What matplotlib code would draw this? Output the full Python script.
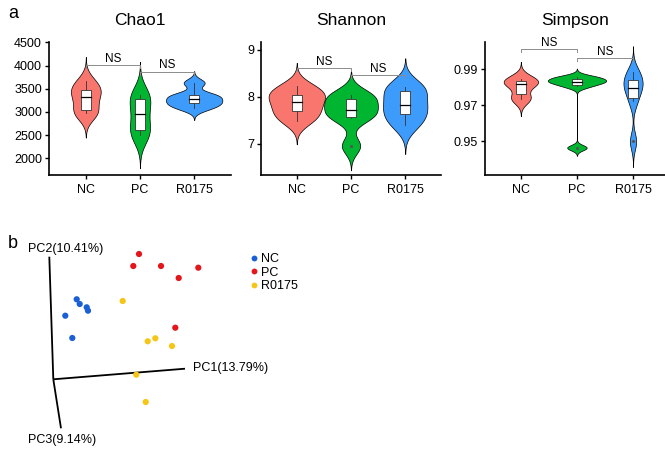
import numpy as np
import matplotlib
matplotlib.use("Agg")
import matplotlib.pyplot as plt
from matplotlib.lines import Line2D

plt.rcParams['font.family'] = ['Liberation Sans', 'DejaVu Sans']

# ---------------- data ----------------
groups = ["NC", "PC", "R0175"]
group_colors = ["#F8766D", "#00B530", "#3D9BFC"]

chao1_NC = [2975, 2985, 3250, 3410, 3505, 3660]
chao1_PC = [2502, 2540, 2820, 3076, 3336, 3364]
chao1_R0175 = [3078, 3170, 3230, 3326, 3377, 3629]

shannon_NC = [7.48, 7.65, 7.80, 7.98, 8.06, 8.22]
shannon_PC = [6.95, 7.55, 7.63, 7.79, 7.99, 8.03]
shannon_R0175 = [7.39, 7.58, 7.75, 7.91, 8.18, 8.20]

simpson_NC = [0.9732, 0.9744, 0.9809, 0.9825, 0.9836, 0.9848]
simpson_PC = [0.9465, 0.9805, 0.9829, 0.9829, 0.98477, 0.9858]
simpson_R0175 = [0.9500, 0.9721, 0.9790, 0.9806, 0.9850, 0.9885]

# significance brackets (pair, height)
chao1_sig = [((1, 2), 4010), ((2, 3), 3866)]
shannon_sig = [((1, 2), 8.60), ((2, 3), 8.45)]
simpson_sig = [((1, 2), 1.0010), ((2, 3), 0.9959)]

# PCoA projected scores (arbitrary units)
nc_x = [23.4, 26.4, 33.4, 34.7, 12.0, 19.0]
nc_y = [80.0, 75.3, 72.0, 68.6, 63.6, 41.3]
pc_x = [85.7, 80.0, 107.7, 125.4, 145.0, 122.0]
pc_y = [125.3, 113.3, 113.3, 101.3, 111.6, 51.6]
r_x = [69.4, 94.4, 102.0, 118.7, 83.0, 92.4]
r_y = [78.3, 38.0, 41.0, 33.3, 4.6, -22.7]
pcoa_colors = ["#1A5FD6", "#E3161B", "#F5C518"]
axis_labels = ["PC1(13.79%)", "PC2(10.41%)", "PC3(9.14%)"]
axis_ends = {"PC1": (131.7, 10.6), "PC2": (-4.0, 122.6), "PC3": (7.7, -49.0)}

# ---------------- helpers ----------------
def nrd0(v):
    v = np.asarray(v, float)
    sd = np.std(v, ddof=1)
    iqr = (np.percentile(v, 75) - np.percentile(v, 25)) / 1.34
    return 0.9 * min(sd, iqr) * len(v) ** -0.2

def kde(v):
    v = np.asarray(v, float)
    bw = nrd0(v)
    y = np.linspace(v.min() - 3 * bw, v.max() + 3 * bw, 512)
    d = np.exp(-0.5 * ((y[:, None] - v[None, :]) / bw) ** 2).sum(1) / (len(v) * bw * np.sqrt(2 * np.pi))
    return y, d

def violin_panel(ax, data, title, sig, ylim, yticks, yfmt, xlim):
    dens = [kde(v) for v in data]
    dmax = max(d.max() for _, d in dens)
    width = 1.04
    for i, ((yy, d), v, c) in enumerate(zip(dens, data, group_colors)):
        pos = i + 1
        hw = d / dmax * width / 2
        ax.fill_betweenx(yy, pos - hw, pos + hw, facecolor=c, edgecolor="black", linewidth=0.5, zorder=2)
        v = np.asarray(v, float)
        q1, med, q3 = np.percentile(v, [25, 50, 75])
        iqr = q3 - q1
        lo_f, hi_f = q1 - 1.5 * iqr, q3 + 1.5 * iqr
        inside = v[(v >= lo_f) & (v <= hi_f)]
        wlo, whi = inside.min(), inside.max()
        outl = v[(v < lo_f) | (v > hi_f)]
        bw_ = 0.18
        ax.plot([pos, pos], [whi, q3], color="#333333", lw=0.6, zorder=3)
        ax.plot([pos, pos], [wlo, q1], color="#333333", lw=0.6, zorder=3)
        ax.add_patch(plt.Rectangle((pos - bw_ / 2, q1), bw_, q3 - q1, facecolor="white",
                                   edgecolor="#333333", lw=0.6, zorder=4))
        ax.plot([pos - bw_ / 2, pos + bw_ / 2], [med, med], color="black", lw=0.9, zorder=5)
        if len(outl):
            ax.scatter([pos] * len(outl), outl, s=1.5, color="#555555", zorder=3)
    yr = ylim[1] - ylim[0]
    tip = 0.02 * yr
    for (a, b), h in sig:
        ax.plot([a, a, b, b], [h - tip, h, h, h - tip], color="#8C8C8C", lw=0.7, zorder=6)
        ax.text((a + b) / 2, h + 0.004 * yr, "NS", ha="center", va="bottom", fontsize=8.5)
    ax.set_xlim(*xlim)
    ax.set_ylim(*ylim)
    ax.set_xticks([1, 2, 3])
    ax.set_xticklabels(groups)
    ax.set_yticks(yticks)
    ax.set_yticklabels([yfmt.format(t) for t in yticks])
    ax.tick_params(axis="both", labelsize=9, length=3, width=1, pad=2)
    ax.tick_params(axis="x", pad=3.5)
    for s in ["top", "right"]:
        ax.spines[s].set_visible(False)
    for s in ["left", "bottom"]:
        ax.spines[s].set_linewidth(1.2)
    ax.set_title(title, fontsize=12.5, pad=12)

# ---------------- figure ----------------
W, H = 665, 450
fig = plt.figure(figsize=(W / 100, H / 100), dpi=100)

def rect(l, r, t, b):
    return [l / W, 1 - b / H, (r - l) / W, (b - t) / H]

ax1 = fig.add_axes(rect(49, 231, 42, 175))
violin_panel(ax1, [chao1_NC, chao1_PC, chao1_R0175], "Chao1", chao1_sig,
             (1640, 4510), [2000, 2500, 3000, 3500, 4000, 4500], "{:d}", (0.32, 3.68))
ax2 = fig.add_axes(rect(261, 441, 42, 175))
violin_panel(ax2, [shannon_NC, shannon_PC, shannon_R0175], "Shannon", shannon_sig,
             (6.33, 9.16), [7, 8, 9], "{:g}", (0.34, 3.66))
ax3 = fig.add_axes(rect(485, 665, 42, 175))
violin_panel(ax3, [simpson_NC, simpson_PC, simpson_R0175], "Simpson", simpson_sig,
             (0.9314, 1.005), [0.95, 0.97, 0.99], "{:.2f}", (0.36, 3.57))

fig.text(8 / W, 1 - 13 / H, "a", fontsize=13, ha="left", va="center")
fig.text(8 / W, 1 - 243 / H, "b", fontsize=13, ha="left", va="center")

# PCoA panel
axb = fig.add_axes([0, 0, 1, 220 / H])
axb.set_xlim(-53.3, W - 53.3)
axb.set_ylim(379.3 - 450, 379.3 - 230)
axb.axis("off")
axb.patch.set_alpha(0)
for key in ["PC1", "PC2", "PC3"]:
    ex, ey = axis_ends[key]
    axb.plot([0, ex], [0, ey], color="black", lw=1.3, solid_capstyle="butt")
axb.text(axis_ends["PC1"][0] + 7.5, axis_ends["PC1"][1] + 0.7, axis_labels[0], fontsize=9, ha="left", va="center")
axb.text(-25, 130.3, axis_labels[1], fontsize=9, ha="left", va="center")
axb.text(-25, -60.7, axis_labels[2], fontsize=9, ha="left", va="center")

for xs, ys, c in zip([nc_x, pc_x, r_x], [nc_y, pc_y, r_y], pcoa_colors):
    axb.scatter(xs, ys, s=20, color=c, edgecolors="none", zorder=3)

handles = [Line2D([], [], marker="o", linestyle="none", markersize=4.2, markerfacecolor=c,
                  markeredgecolor="none") for c in pcoa_colors]
fig.legend(handles, groups, loc="upper left", bbox_to_anchor=(251 / W, 1 - 253 / H),
           frameon=False, fontsize=9, handlelength=0.5, handletextpad=0.3,
           labelspacing=0.12, borderpad=0, borderaxespad=0)

fig.savefig("out.png", dpi=100)
